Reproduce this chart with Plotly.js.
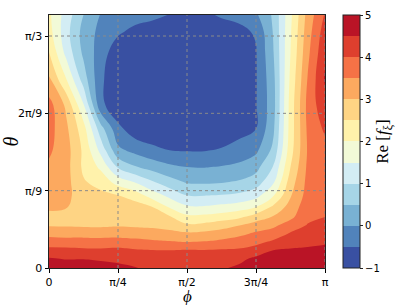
<!DOCTYPE html>
<html><head><meta charset="utf-8">
<script src="https://cdn.plot.ly/plotly-3.0.1.min.js"></script>
<style>html,body{margin:0;padding:0;background:#fff;}#chart{width:407px;height:305px;}</style>
</head><body><div id="chart"></div>
<script>
// grid coordinates (radians)
const phi = [0, 0.1963, 0.3927, 0.5890, 0.7854, 0.9817, 1.1781, 1.3744, 1.5708, 1.7671, 1.9635, 2.1598, 2.3562, 2.5525, 2.7489, 2.9452, 3.1416];
const theta = [0, 0.0421, 0.0797, 0.1174, 0.1550, 0.1926, 0.2302, 0.2754, 0.3280, 0.3882, 0.4559, 0.5311, 0.6290, 0.7343, 0.8547, 0.9750, 1.0653, 1.1420];
// Re[f_xi]; one row per theta, one column per phi
const reF = [
  [4.85, 4.80, 4.75, 4.70, 4.60, 4.52, 4.40, 4.35, 4.35, 4.37, 4.45, 4.58, 4.80, 4.85, 4.90, 4.92, 4.95],
  [4.55, 4.47, 4.48, 4.43, 4.40, 4.35, 4.28, 4.25, 4.25, 4.27, 4.32, 4.38, 4.60, 4.70, 4.72, 4.75, 4.78],
  [4.15, 4.15, 4.10, 4.08, 4.12, 4.05, 4.02, 4.00, 4.03, 4.02, 4.05, 4.07, 4.21, 4.50, 4.55, 4.58, 4.60],
  [3.75, 3.72, 3.72, 3.70, 3.72, 3.67, 3.60, 3.55, 3.50, 3.53, 3.62, 3.73, 3.87, 4.09, 4.32, 4.38, 4.45],
  [3.33, 3.30, 3.30, 3.28, 3.30, 3.25, 3.20, 3.15, 3.08, 3.13, 3.23, 3.38, 3.58, 3.73, 4.05, 4.15, 4.30],
  [2.96, 2.95, 2.93, 2.92, 2.95, 2.93, 2.90, 2.80, 2.58, 2.64, 2.79, 2.98, 3.22, 3.39, 3.75, 4.03, 4.15],
  [2.92, 2.88, 2.85, 2.82, 2.85, 2.82, 2.78, 2.55, 2.13, 2.15, 2.25, 2.40, 2.75, 3.04, 3.38, 3.90, 4.00],
  [3.05, 3.02, 2.82, 2.75, 2.73, 2.72, 2.50, 1.95, 1.57, 1.55, 1.64, 1.76, 2.00, 2.60, 3.20, 3.80, 3.88],
  [3.18, 3.12, 2.75, 2.62, 2.50, 2.27, 1.75, 1.35, 1.00, 0.98, 1.03, 1.10, 1.32, 1.95, 2.95, 3.70, 3.75],
  [3.30, 3.17, 2.55, 2.32, 1.80, 1.46, 1.05, 0.70, 0.45, 0.43, 0.46, 0.55, 0.74, 1.42, 2.75, 3.65, 3.68],
  [3.42, 3.18, 2.40, 1.90, 0.95, 0.54, 0.30, 0.10, 0.00, -0.02, 0.03, 0.10, 0.34, 1.03, 2.50, 3.60, 3.70],
  [3.58, 3.20, 2.40, 1.35, 0.12, -0.15, -0.37, -0.50, -0.53, -0.53, -0.45, -0.27, -0.10, 0.62, 2.30, 3.55, 3.82],
  [3.70, 3.10, 2.20, 0.70, -0.36, -0.80, -0.88, -0.90, -0.90, -0.92, -0.85, -0.72, -0.50, 0.40, 2.22, 3.60, 4.08],
  [3.70, 2.90, 1.55, -0.35, -0.90, -0.92, -0.95, -0.97, -0.97, -0.98, -0.95, -0.85, -0.53, 0.30, 2.20, 3.65, 4.35],
  [3.05, 2.00, 0.75, -0.40, -0.90, -0.93, -0.95, -0.98, -0.98, -0.98, -0.95, -0.88, -0.54, 0.35, 2.10, 3.53, 4.55],
  [2.50, 1.33, 0.39, -0.25, -0.80, -0.88, -0.90, -0.95, -0.95, -0.93, -0.90, -0.82, -0.53, 0.47, 2.00, 3.38, 4.40],
  [2.20, 1.18, 0.32, -0.15, -0.42, -0.65, -0.75, -0.80, -0.85, -0.80, -0.72, -0.62, -0.45, 0.53, 1.95, 3.28, 4.25],
  [2.10, 1.27, 0.50, -0.03, -0.15, -0.28, -0.38, -0.52, -0.65, -0.58, -0.45, -0.38, -0.08, 0.58, 1.89, 3.19, 4.05]
];
const levelStart = -1, levelEnd = 5, levelStep = 0.5;
const levelColors = ['#3950a2', '#5183bb', '#79b1d3', '#a6d5e7', '#d3edf4', '#f2fad7',
                     '#fff2ab', '#fed484', '#fca95f', '#f57246', '#de3f2e', '#ba1426'];
const xTickVals = [0, Math.PI / 4, Math.PI / 2, 3 * Math.PI / 4, Math.PI];
const xTickText = ['0', 'π/4', 'π/2', '3π/4', 'π'];
const yTickVals = [0, Math.PI / 9, 2 * Math.PI / 9, Math.PI / 3];
const yTickText = ['0', 'π/9', '2π/9', 'π/3'];
const cbTickVals = [-1, 0, 1, 2, 3, 4, 5];
const cbTickText = ['−1', '0', '1', '2', '3', '4', '5'];

const nBands = levelColors.length;
const nLevels = Math.round((levelEnd - levelStart) / levelStep) + 1;
// step colorscale for the filled contours (Plotly maps band midpoints to (k+1)/nLevels)
const contourScale = [];
levelColors.forEach((c, k) => {
  const a = k === 0 ? 0 : (k + 0.5) / nLevels;
  const b = k === nBands - 1 ? 1 : (k + 1.5) / nLevels;
  contourScale.push([a, c], [b, c]);
});
// step colorscale for the colour bar (zmin..zmax)
const barScale = [];
levelColors.forEach((c, k) => { barScale.push([k / nBands, c], [(k + 1) / nBands, c]); });

const L = 49, R = 82, T = 15, B = 37, W = 407, H = 305;
const plotW = W - L - R, plotH = H - T - B;

const xRange = [phi[0], phi[phi.length - 1]];
const yRange = [theta[0], theta[theta.length - 1]];

const shapes = [];
const grid = {color: '#8a8a8a', width: 1, dash: 'dot'};
xTickVals.forEach(v => { if (v > xRange[0] + 1e-6 && v < xRange[1] - 1e-6)
  shapes.push({type: 'line', xref: 'x', yref: 'paper', x0: v, x1: v, y0: 0, y1: 1, line: grid, layer: 'above'}); });
yTickVals.forEach(v => { if (v > yRange[0] + 1e-6 && v < yRange[1] - 1e-6)
  shapes.push({type: 'line', xref: 'paper', yref: 'y', x0: 0, x1: 1, y0: v, y1: v, line: grid, layer: 'above'}); });

const tickFont = {family: 'DejaVu Sans, sans-serif', size: 11, color: '#000'};
const serif = 'Liberation Serif, DejaVu Serif, serif';

const traces = [
  {
    type: 'heatmap', x: phi, y: theta, z: reF, zmin: levelStart, zmax: levelEnd,
    colorscale: barScale, hoverinfo: 'skip', zsmooth: false,
    colorbar: {
      x: (343 - L) / plotW, xanchor: 'left', xpad: 0, ypad: 0,
      y: 0.5, yanchor: 'middle', len: 1, lenmode: 'fraction',
      thickness: 17, thicknessmode: 'pixels',
      outlinewidth: 1, outlinecolor: '#222',
      tickmode: 'array', tickvals: cbTickVals, ticktext: cbTickText,
      ticks: 'outside', ticklen: 3, tickcolor: '#222', tickwidth: 1,
      tickfont: {family: 'DejaVu Sans, sans-serif', size: 10, color: '#000'},
      title: {text: 'Re [<i>f</i><sub>ξ</sub>]', side: 'right', font: {family: serif, size: 17, color: '#000'}}
    }
  },
  {
    type: 'contour', x: phi, y: theta, z: reF,
    autocontour: false,
    contours: {start: levelStart, end: levelEnd, size: levelStep, coloring: 'fill', showlines: false},
    line: {width: 0, smoothing: 1.2},
    colorscale: contourScale, showscale: false, hoverinfo: 'skip'
  }
];

const layout = {
  width: W, height: H,
  margin: {l: L, r: R, t: T, b: B, pad: 0},
  paper_bgcolor: '#fff', plot_bgcolor: '#fff',
  showlegend: false,
  xaxis: {
    range: xRange, tickmode: 'array', tickvals: xTickVals, ticktext: xTickText,
    ticks: 'outside', ticklen: 3.5, tickcolor: '#000', tickwidth: 1,
    showgrid: false, zeroline: false, showline: true, mirror: true, linecolor: '#222', linewidth: 1,
    tickfont: tickFont
  },
  yaxis: {
    range: yRange, tickmode: 'array', tickvals: yTickVals, ticktext: yTickText,
    ticks: 'outside', ticklen: 3.5, tickcolor: '#000', tickwidth: 1,
    showgrid: false, zeroline: false, showline: true, mirror: true, linecolor: '#222', linewidth: 1,
    tickfont: tickFont,
    title: {text: '<i>θ</i>', font: {family: serif, size: 20, color: '#000'}, standoff: 4}
  },
  annotations: [{
    text: '<i>ϕ</i>', xref: 'paper', yref: 'paper', x: 0.5, y: -(296 - (H - B)) / plotH,
    xanchor: 'center', yanchor: 'middle', showarrow: false,
    font: {family: serif, size: 17, color: '#000'}
  }],
  shapes: shapes
};

Plotly.newPlot('chart', traces, layout, {staticPlot: true, displayModeBar: false});
</script>
</body></html>
